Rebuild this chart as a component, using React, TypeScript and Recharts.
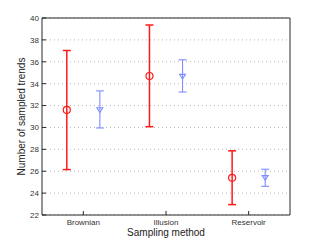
import React from "react";
import {
  ComposedChart,
  Scatter,
  XAxis,
  YAxis,
  CartesianGrid,
  ErrorBar,
  Label,
} from "recharts";

const categories = ["Brownian", "Illusion", "Reservoir"];
const redMean = [31.6, 34.7, 25.4];
const redLow = [26.15, 30.07, 22.95];
const redHigh = [37.03, 39.36, 27.86];
const blueMean = [31.6, 34.65, 25.4];
const blueLow = [29.95, 33.24, 24.62];
const blueHigh = [33.34, 36.18, 26.18];
const yTicks = [22, 24, 26, 28, 30, 32, 34, 36, 38, 40];
const xTicks = [1, 2, 3];
const offset = 0.2;

const redData = categories.map((c, i) => ({
  name: c,
  x: i + 1 - offset,
  y: redMean[i],
  err: [redMean[i] - redLow[i], redHigh[i] - redMean[i]],
}));
const blueData = categories.map((c, i) => ({
  name: c,
  x: i + 1 + offset,
  y: blueMean[i],
  err: [blueMean[i] - blueLow[i], blueHigh[i] - blueMean[i]],
}));

const RED = "#ff1a1a";
const BLUE = "#7d8dff";
const AX = "#262626";

const Circle = (p: any) => (
  <circle cx={p.cx} cy={p.cy} r={3.5} fill="none" stroke={RED} strokeWidth={1.2} />
);
const Tri = (p: any) => {
  const { cx, cy } = p;
  return (
    <polygon
      points={`${cx - 3},${cy - 2.2} ${cx + 3},${cy - 2.2} ${cx},${cy + 2.5}`}
      fill="none"
      stroke={BLUE}
      strokeWidth={1.1}
    />
  );
};

export default function App() {
  return (
    <ComposedChart
      width={313}
      height={234}
      margin={{ top: 9, right: 30, bottom: 0, left: 0 }}
      style={{ fontFamily: "Liberation Sans, Arial, sans-serif" }}
    >
      <CartesianGrid vertical={false} stroke="#b8b8b8" strokeDasharray="1 3" />
      <XAxis
        dataKey="x"
        type="number"
        domain={[0.5, 3.5]}
        ticks={xTicks}
        allowDataOverflow
        tickFormatter={(v: number) => categories[v - 1] ?? ""}
        height={27}
        tickSize={-4}
        tickMargin={8.5}
        stroke={AX}
        tick={{ fontSize: 8, fill: "#333" }}
        interval={0}
      >
        <Label
          content={(props: any) => {
            const vb = props.viewBox || {};
            return (
              <text
                x={vb.x + vb.width / 2}
                y={227.5}
                textAnchor="middle"
                fontSize={10}
                fill="#222"
              >
                Sampling method
              </text>
            );
          }}
        />
      </XAxis>
      <XAxis
        xAxisId="t"
        dataKey="x"
        type="number"
        orientation="top"
        domain={[0.5, 3.5]}
        ticks={xTicks}
        height={1}
        tick={false}
        tickSize={-4}
        stroke={AX}
      />
      <YAxis
        dataKey="y"
        type="number"
        domain={[22, 40]}
        ticks={yTicks}
        allowDataOverflow
        width={34}
        tickSize={-4}
        tickMargin={7}
        stroke={AX}
        tick={{ fontSize: 8, fill: "#333" }}
        interval={0}
      >
        <Label
          content={(props: any) => {
            const vb = props.viewBox || {};
            const cx = 13.5;
            const cy = vb.y + vb.height / 2;
            return (
              <text
                x={cx}
                y={cy}
                transform={`rotate(-90 ${cx} ${cy})`}
                textAnchor="middle"
                dominantBaseline="central"
                fontSize={10}
                fill="#222"
              >
                Number of sampled trends
              </text>
            );
          }}
        />
      </YAxis>
      <YAxis
        yAxisId="r"
        dataKey="y"
        type="number"
        orientation="right"
        domain={[22, 40]}
        ticks={yTicks}
        width={1}
        tick={false}
        tickSize={-4}
        stroke={AX}
      />
      <Scatter data={redData} dataKey="y" shape={Circle} isAnimationActive={false}>
        <ErrorBar dataKey="err" direction="y" width={4} stroke={RED} strokeWidth={1.5} />
      </Scatter>
      <Scatter data={blueData} dataKey="y" shape={Tri} isAnimationActive={false}>
        <ErrorBar dataKey="err" direction="y" width={4} stroke={BLUE} strokeWidth={1.1} />
      </Scatter>
    </ComposedChart>
  );
}
